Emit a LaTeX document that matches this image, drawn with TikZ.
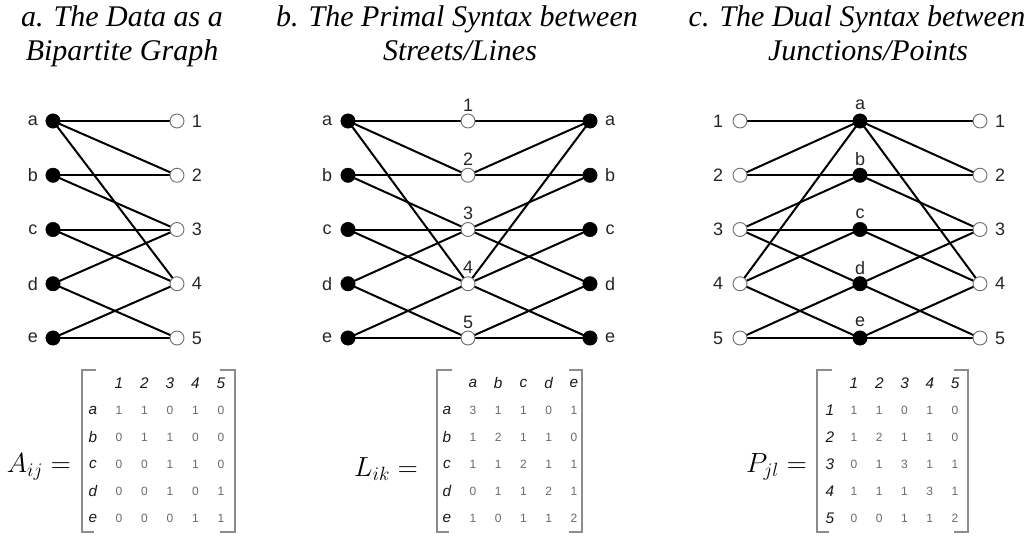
\documentclass[tikz,border=0pt]{standalone}
\usepackage{fontspec}
\setmainfont{Liberation Serif}
\setsansfont{Liberation Sans}
\usetikzlibrary{backgrounds}
\definecolor{ringgray}{HTML}{707070}
\definecolor{brkgray}{HTML}{8C8C8C}
\definecolor{entrygray}{HTML}{6A6A6A}
\def\edgelist{a/1,a/2,a/4,b/2,b/3,c/3,c/4,d/3,d/5,e/4,e/5}
\begin{document}
\begin{tikzpicture}[x=0.75pt,y=-0.75pt,
  fnode/.style={circle,fill=black,draw=black,line width=0.4pt,minimum size=10.8pt,inner sep=0pt},
  onode/.style={circle,fill=white,draw=ringgray,line width=0.7pt,minimum size=10.5pt,inner sep=0pt},
  edgeline/.style={line width=1.5pt,black},
  lbl/.style={font=\sffamily\fontsize{13.5}{15}\selectfont,inner sep=0pt,text=black!85},
  ttl/.style={font=\itshape\fontsize{22.5}{25}\selectfont,inner sep=0pt,anchor=base},
  brk/.style={draw=brkgray,line width=1.4pt},
  mhead/.style={font=\sffamily\itshape\fontsize{11.5}{13}\selectfont,inner sep=0pt,text=black!90},
  ment/.style={font=\sffamily\fontsize{9}{11}\selectfont,inner sep=0pt,text=entrygray},
  mlab/.style={font=\fontsize{22}{26}\selectfont,inner sep=0pt,anchor=base east}
]
\useasboundingbox (0,0) rectangle (1034,536);

% titles
\node[ttl] (ta1) at (122,26) {a. The Data as a};
\node[ttl] (ta2) at (122,60) {Bipartite Graph};
\node[ttl] (tb1) at (457,26) {b. The Primal Syntax between};
\node[ttl] (tb2) at (460,60) {Streets/Lines};
\node[ttl] (tc1) at (857,26) {c. The Dual Syntax between};
\node[ttl] (tc2) at (868,60) {Junctions/Points};

% panel a
\foreach \n [count=\k] in {a,b,c,d,e} {
  \pgfmathsetmacro\yy{121+54.25*(\k-1)}
  \node[fnode] (pa-\n) at (53,\yy) {};
  \node[lbl] (pal-\n) at (33,\yy) {\n};
}
\foreach \n in {1,...,5} {
  \pgfmathsetmacro\yy{121+54.25*(\n-1)}
  \node[onode] (pa-\n) at (177,\yy) {};
  \node[lbl] (pal-\n) at (197,\yy) {\n};
}
% panel b
\foreach \n [count=\k] in {a,b,c,d,e} {
  \pgfmathsetmacro\yy{121+54.25*(\k-1)}
  \node[fnode] (pbL-\n) at (348,\yy) {};
  \node[lbl] (pbLl-\n) at (327,\yy) {\n};
  \node[fnode] (pbR-\n) at (590,\yy) {};
  \node[lbl] (pbRl-\n) at (610,\yy) {\n};
}
\foreach \n in {1,...,5} {
  \pgfmathsetmacro\yy{121+54.25*(\n-1)}
  \node[onode] (pbM-\n) at (468,\yy) {};
  \node[lbl] (pbMl-\n) at (468,\yy-16) {\n};
}
% panel c
\foreach \n in {1,...,5} {
  \pgfmathsetmacro\yy{121+54.25*(\n-1)}
  \node[onode] (pcL-\n) at (740,\yy) {};
  \node[lbl] (pcLl-\n) at (718,\yy) {\n};
  \node[onode] (pcR-\n) at (980,\yy) {};
  \node[lbl] (pcRl-\n) at (1000,\yy) {\n};
}
\foreach \n [count=\k] in {a,b,c,d,e} {
  \pgfmathsetmacro\yy{121+54.25*(\k-1)}
  \node[fnode] (pcM-\n) at (860,\yy) {};
  \node[lbl] (pcMl-\n) at (860,\yy-16) {\n};
}

% edges
\begin{scope}[on background layer]
  \foreach \s/\t in \edgelist {
    \draw[edgeline] (pa-\s.center) -- (pa-\t.center);
    \draw[edgeline] (pbL-\s.center) -- (pbM-\t.center);
    \draw[edgeline] (pbM-\t.center) -- (pbR-\s.center);
    \draw[edgeline] (pcL-\t.center) -- (pcM-\s.center);
    \draw[edgeline] (pcM-\s.center) -- (pcR-\t.center);
  }
\end{scope}

% matrix A
\node[mlab] (labA) at (71,472) {$A_{ij} =$};
\draw[brk] (96,370) -- (82,370) -- (82,532) -- (94,532);
\draw[brk] (220,370) -- (235,370) -- (235,532) -- (220,532);
\foreach \t [count=\j] in {1,2,3,4,5}
  \node[mhead] (Ah-\j) at ({119+25.5*(\j-1)},383) {\t};
\foreach \r/\vals [count=\i] in {a/{1,1,0,1,0},b/{0,1,1,0,0},c/{0,0,1,1,0},d/{0,0,1,0,1},e/{0,0,0,1,1}} {
  \node[mhead] (Ar-\r) at (93,{410+27*(\i-1)}) {\r};
  \foreach \v [count=\j] in \vals
    \node[ment] (A-\r-\j) at ({119+25.5*(\j-1)},{410+27*(\i-1)}) {\v};
}

% matrix L
\node[mlab] (labL) at (418,476) {$L_{ik} =$};
\draw[brk] (452,370) -- (437,370) -- (437,532) -- (449,532);
\draw[brk] (569,370) -- (582,370) -- (582,532) -- (569,532);
\foreach \t [count=\j] in {a,b,c,d,e}
  \node[mhead] (Lh-\j) at ({473+25.25*(\j-1)},383) {\t};
\foreach \r/\vals [count=\i] in {a/{3,1,1,0,1},b/{1,2,1,1,0},c/{1,1,2,1,1},d/{0,1,1,2,1},e/{1,0,1,1,2}} {
  \node[mhead] (Lr-\r) at (447,{410+27*(\i-1)}) {\r};
  \foreach \v [count=\j] in \vals
    \node[ment] (L-\r-\j) at ({473+25.25*(\j-1)},{410+27*(\i-1)}) {\v};
}

% matrix P
\node[mlab] (labP) at (807,472) {$P_{jl} =$};
\draw[brk] (832,370) -- (817,370) -- (817,532) -- (829,532);
\draw[brk] (954,370) -- (968,370) -- (968,532) -- (954,532);
\foreach \t [count=\j] in {1,2,3,4,5}
  \node[mhead] (Ph-\j) at ({854+25.25*(\j-1)},383) {\t};
\foreach \r/\vals [count=\i] in {1/{1,1,0,1,0},2/{1,2,1,1,0},3/{0,1,3,1,1},4/{1,1,1,3,1},5/{0,0,1,1,2}} {
  \node[mhead] (Pr-\r) at (830,{410+27*(\i-1)}) {\r};
  \foreach \v [count=\j] in \vals
    \node[ment] (P-\r-\j) at ({854+25.25*(\j-1)},{410+27*(\i-1)}) {\v};
}
\end{tikzpicture}
\end{document}
